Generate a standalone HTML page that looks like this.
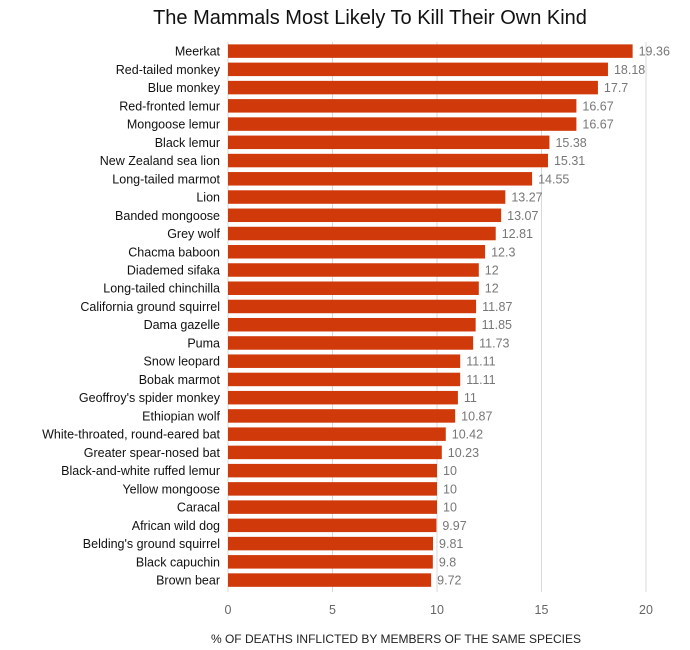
<!DOCTYPE html>
<html><head><meta charset="utf-8"><style>
body{margin:0;background:#fff;}
svg{display:block;font-family:"Liberation Sans",sans-serif;}
</style></head><body>
<svg id="chart" width="690" height="650">
<text x="370" y="24" text-anchor="middle" font-size="20" fill="#111">The Mammals Most Likely To Kill Their Own Kind</text>
<g id="grid"></g><g id="bars"></g><g id="labels"></g><g id="ticks"></g>
<text x="396" y="643" text-anchor="middle" font-size="12" fill="#222">% OF DEATHS INFLICTED BY MEMBERS OF THE SAME SPECIES</text>
</svg>
<script>
const categories=["Meerkat","Red-tailed monkey","Blue monkey","Red-fronted lemur","Mongoose lemur","Black lemur","New Zealand sea lion","Long-tailed marmot","Lion","Banded mongoose","Grey wolf","Chacma baboon","Diademed sifaka","Long-tailed chinchilla","California ground squirrel","Dama gazelle","Puma","Snow leopard","Bobak marmot","Geoffroy's spider monkey","Ethiopian wolf","White-throated, round-eared bat","Greater spear-nosed bat","Black-and-white ruffed lemur","Yellow mongoose","Caracal","African wild dog","Belding's ground squirrel","Black capuchin","Brown bear"];
const values=[19.36,18.18,17.7,16.67,16.67,15.38,15.31,14.55,13.27,13.07,12.81,12.3,12,12,11.87,11.85,11.73,11.11,11.11,11,10.87,10.42,10.23,10,10,10,9.97,9.81,9.8,9.72];
const tickValues=[0,5,10,15,20];
const x0=228,x1=646,y0=42,step=18.24,bh=13.5;
const xs=v=>x0+(x1-x0)*v/20;
const ys=i=>y0+i*step;
const NS="http://www.w3.org/2000/svg";
function mk(t,a,p){const e=document.createElementNS(NS,t);for(const k in a)e.setAttribute(k,a[k]);document.getElementById(p).appendChild(e);return e;}
tickValues.forEach(t=>{
 const l=mk("line",{x1:xs(t),x2:xs(t),y1:y0,y2:592,stroke:"#d9d9d9","stroke-width":1},"grid");
 
 
 const tx=mk("text",{x:xs(t),y:614,"text-anchor":"middle","font-size":12.5,fill:"#666"},"ticks");
 tx.textContent=t;
 
 
});
categories.forEach((c,i)=>{
 const y=ys(i);
 const r=mk("rect",{x:x0,y:y+(step-bh)/2,width:xs(values[i])-x0,height:bh,fill:"#d03a0a"},"bars");
 
 
 const lb=mk("text",{x:x0-8,y:y+step/2+4.5,"text-anchor":"end","font-size":12.5,fill:"#111"},"labels");
 lb.textContent=c;
 
 
 const vl=mk("text",{x:xs(values[i])+6,y:y+step/2+4.5,"font-size":12.5,fill:"#777"},"labels");
 vl.textContent=values[i];
 
 
});
</script>
</body></html>
